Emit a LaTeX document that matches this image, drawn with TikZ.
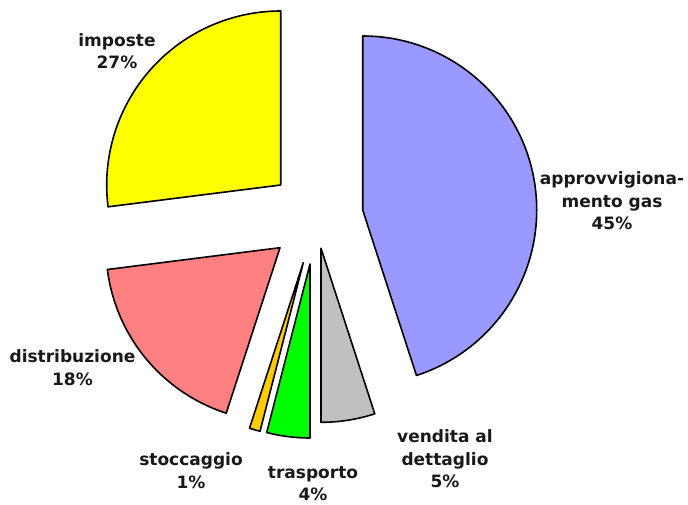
\documentclass[tikz,border=0pt]{standalone}
\usepackage{fontspec}
\setmainfont{DejaVu Sans}
\definecolor{cblue}{HTML}{9999FF}
\definecolor{cgrey}{HTML}{C0C0C0}
\definecolor{cgreen}{HTML}{00FF00}
\definecolor{corange}{HTML}{FFCC00}
\definecolor{cpink}{HTML}{FF8080}
\definecolor{cyellow}{HTML}{FFFF00}
\tikzset{
  slice/.style={draw=black, line width=1.6pt, line join=round},
  lbl/.style={align=center, inner sep=0pt, font=\bfseries\fontsize{17}{22.5}\selectfont, text=black!90}
}
\newcommand{\pieslice}[4]{% apex, start, end, colour
  \draw[slice, fill=#4] (#1) -- ++(#2:174pt) arc[start angle=#2, end angle=#3, radius=174pt] -- cycle;}
\begin{document}
\begin{tikzpicture}[x=1pt, y=-1pt]
\useasboundingbox (0,0) rectangle (688,504);
\coordinate (ablue) at (362.7,210);
\coordinate (agrey) at (321,248.3);
\coordinate (agreen) at (310,264);
\coordinate (aorange) at (303.3,262.7);
\coordinate (apink) at (280,247.7);
\coordinate (ayellow) at (280.7,185);
\pieslice{ablue}{90}{-72}{cblue}
\pieslice{agrey}{-72}{-90}{cgrey}
\pieslice{agreen}{-90}{-104.4}{cgreen}
\pieslice{aorange}{-104.4}{-108}{corange}
\pieslice{apink}{-108}{-172.8}{cpink}
\pieslice{ayellow}{-172.8}{-270}{cyellow}
\node[lbl] (limp) at (117,51) {imposte\\27\%};
\node[lbl] (lapp) at (612,201) {approvvigiona-\\mento gas\\45\%};
\node[lbl] (ldis) at (72.5,367.5) {distribuzione\\18\%};
\node[lbl] (lsto) at (191,470.5) {stoccaggio\\1\%};
\node[lbl] (ltra) at (313,483.5) {trasporto\\4\%};
\node[lbl] (lven) at (445,459) {vendita al\\dettaglio\\5\%};
\end{tikzpicture}
\end{document}
